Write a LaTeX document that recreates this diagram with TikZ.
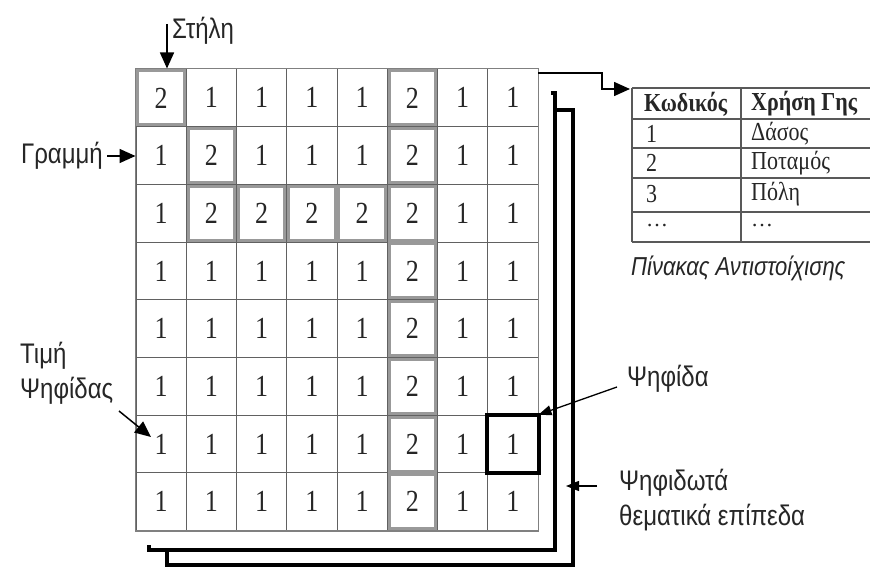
\documentclass[tikz,border=0pt]{standalone}
\usepackage{fontspec}
\setmainfont{Liberation Serif}
\setsansfont{Liberation Sans}
\usetikzlibrary{arrows.meta}
\definecolor{gridc}{gray}{0.38}
\definecolor{twoc}{gray}{0.6}
\definecolor{tblc}{gray}{0.35}
\newcommand{\vstretch}[1]{\scalebox{1}[1.18]{#1}}
\begin{document}
\begin{tikzpicture}[x=1pt,y=-1pt,
  cell/.style={draw=gridc, line width=1pt, minimum width=50.25pt, minimum height=57.7pt, inner sep=0pt, font=\fontsize{26}{26}\selectfont, text=black!85},
  twobox/.style={draw=twoc, line width=3pt, minimum width=46.5pt, minimum height=54pt, inner sep=0pt},
  lbl/.style={font=\sffamily\fontsize{24}{35}\selectfont, inner sep=0pt, text=black!85},
  ttxt/.style={font=\fontsize{22}{22}\selectfont, inner sep=0pt, anchor=west, text=black!85},
  tline/.style={draw=tblc, line width=1.2pt},
  arr/.style={line width=1.5pt, -{Triangle[length=16pt,width=14pt]}},
  arrsm/.style={line width=1.3pt, -{Triangle[length=13pt,width=10pt]}},
  layer/.style={line width=3.5pt, line join=miter}
]
\useasboundingbox[fill=white] (0,0) rectangle (870,567);

% cells
\foreach \vals [count=\r] in {{2,1,1,1,1,2,1,1},{1,2,1,1,1,2,1,1},{1,2,2,2,2,2,1,1},{1,1,1,1,1,2,1,1},{1,1,1,1,1,2,1,1},{1,1,1,1,1,2,1,1},{1,1,1,1,1,2,1,1},{1,1,1,1,1,2,1,1}}{
  \foreach \v [count=\c] in \vals {
    \node[cell] (c-\r-\c) at ({136+(\c-0.5)*50.25},{69+(\r-0.5)*57.7}) {\vstretch{\v}};
  }
}
% grey outlines of value-2 cells
\foreach \vals [count=\r] in {{2,1,1,1,1,2,1,1},{1,2,1,1,1,2,1,1},{1,2,2,2,2,2,1,1},{1,1,1,1,1,2,1,1},{1,1,1,1,1,2,1,1},{1,1,1,1,1,2,1,1},{1,1,1,1,1,2,1,1},{1,1,1,1,1,2,1,1}}{
  \foreach \v [count=\c] in \vals {
    \ifnum\v=2 \node[twobox] (t-\r-\c) at (c-\r-\c) {}; \fi
  }
}
\draw[draw=gray, line width=1.5pt] (c-1-1.north west) rectangle (c-8-8.south east);
\draw[line width=4pt] (c-7-8.north west) rectangle (c-7-8.south east);

% stacked layers
\draw[layer] (551,93) -- (555,93) -- (555,550) -- (149,550) -- (149,545);
\draw[layer] (555,110) -- (573,110) -- (573,565) -- (167,565) -- (167,550);

% table
\foreach \yy in {88,119,148,178,212,242} { \draw[tline] (632,\yy) -- (870,\yy); }
\draw[tline] (632,88) -- (632,242);
\draw[tline] (741,88) -- (741,242);
\node[ttxt] (k0) at (644,104) {\vstretch{\textbf{Κωδικός}}};
\node[ttxt] (h0) at (751,104) {\vstretch{\textbf{Χρήση Γης}}};
\node[ttxt] (k1) at (646,134) {\vstretch{1}};
\node[ttxt] (h1) at (751,134) {\vstretch{Δάσος}};
\node[ttxt] (k2) at (646,163) {\vstretch{2}};
\node[ttxt] (h2) at (751,163) {\vstretch{Ποταμός}};
\node[ttxt] (k3) at (646,194) {\vstretch{3}};
\node[ttxt] (h3) at (751,194) {\vstretch{Πόλη}};
\node[ttxt] (k4) at (646,226) {…};
\node[ttxt] (h4) at (751,226) {…};
\node[anchor=west, inner sep=0pt, font=\sffamily\itshape\fontsize{22}{22}\selectfont, text=black!85] (cap) at (631,268) {\vstretch{Πίνακας Αντιστοίχισης}};

% labels
\node[lbl, anchor=west] (stl) at (172,31) {\vstretch{Στήλη}};
\node[lbl, anchor=east] (gr) at (103,156) {\vstretch{Γραμμή}};
\node[lbl, anchor=west, align=left] (tim) at (20,373) {\vstretch{Τιμή}\\\vstretch{Ψηφίδας}};
\node[lbl, anchor=west] (psf) at (627,379) {\vstretch{Ψηφίδα}};
\node[lbl, anchor=west, align=left] (lay) at (619,500) {\vstretch{Ψηφιδωτά}\\\vstretch{θεματικά επίπεδα}};

% connectors
\coordinate (stlA) at (167,24);
\draw[arr] (stlA) -- (stlA |- c-1-1.north);
\draw[arr] ([xshift=4pt]gr.east) -- (gr.east -| c-2-1.west);
\coordinate (timA) at (119,411);
\coordinate (timB) at (151,437);
\draw[arr] (timA) -- (timB);
\coordinate (psfA) at (617,387);
\draw[arrsm] (psfA) -- (c-7-8.north east);
\coordinate (layA) at (597,486);
\coordinate (layB) at (566,486);
\draw[arrsm] (layA) -- (layB);
\coordinate (tA) at (538,73);
\coordinate (tB) at (630,89);
\draw[arr] (tA) -- ++(64,0) |- (tB);
\end{tikzpicture}
\end{document}
